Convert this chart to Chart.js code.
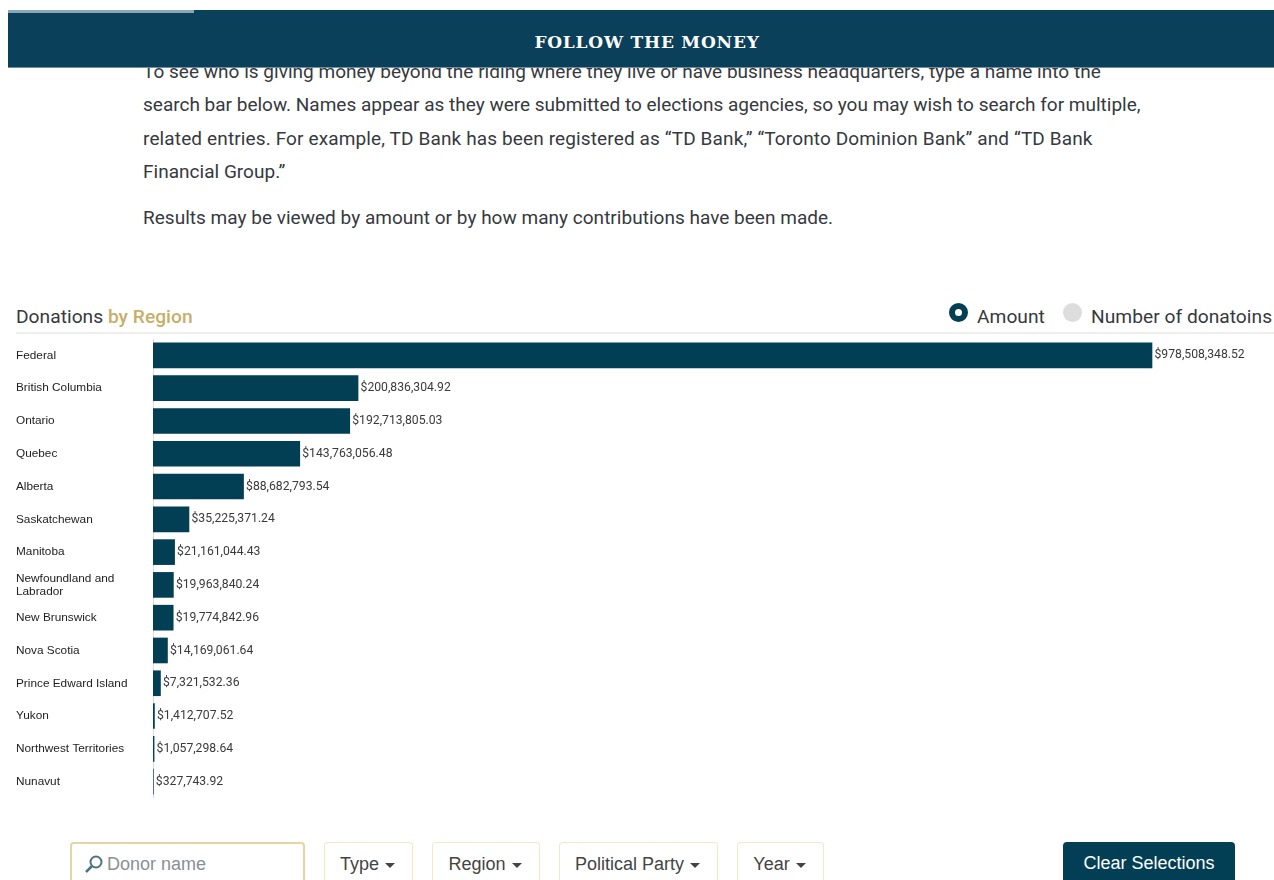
<!DOCTYPE html>
<html>
<head>
<meta charset="utf-8">
<title>Follow the Money</title>
<script src="https://cdn.jsdelivr.net/npm/chart.js@4"></script>
<style>
html,body{margin:0;padding:0;background:#fff;width:1274px;height:880px;overflow:hidden;font-family:Roboto,sans-serif;color:#333}
.abs{position:absolute;white-space:nowrap}
#band{position:absolute;left:8px;top:10px;width:1266px;height:58px;background:#0a4059;border-bottom:1px solid #6d8fa0;box-sizing:border-box;z-index:3}
#stripe{position:absolute;left:0;top:0;width:186px;height:3px;background:#8ba6b7}
#band h1{position:absolute;left:12px;right:0;top:22px;margin:0;text-align:center;font:bold 17px "DejaVu Serif",serif;color:#fff;letter-spacing:.8px}
.p{font-size:19px;color:#36393d;font-family:Roboto,sans-serif;letter-spacing:.02px}
.h{font-size:19.2px}
#rule{position:absolute;left:16px;top:332px;width:1258px;height:2px;background:#eeeeee}
.radio{position:absolute;border-radius:50%;box-sizing:border-box}
canvas{position:absolute;left:0;top:339px}
.btn{position:absolute;top:842px;height:38px;box-sizing:border-box;border:1px solid #f3e9c9;border-bottom:none;border-radius:4px 4px 0 0;background:#fff;font:18px "Liberation Sans",sans-serif;color:#444;text-align:center;line-height:42px;white-space:nowrap}
.dd{padding-right:2px}
.caret{display:inline-block;width:0;height:0;border-left:5px solid transparent;border-right:5px solid transparent;border-top:5px solid #444;vertical-align:middle;margin-left:1px}
</style>
</head>
<body>
<div class="abs p" style="left:143px;top:60px">To see who is giving money beyond the riding where they live or have business headquarters, type a name into the</div>
<div class="abs p" style="left:143px;top:93px;letter-spacing:0">search bar below. Names appear as they were submitted to elections agencies, so you may wish to search for multiple,</div>
<div class="abs p" style="left:143px;top:127px;letter-spacing:.13px">related entries. For example, TD Bank has been registered as “TD Bank,” “Toronto Dominion Bank” and “TD Bank</div>
<div class="abs p" style="left:143px;top:160px">Financial Group.”</div>
<div class="abs p" style="left:143px;top:206px">Results may be viewed by amount or by how many contributions have been made.</div>
<div id="band"><div id="stripe"></div><h1>FOLLOW THE MONEY</h1></div>

<div class="abs p h" style="left:16px;top:305px">Donations <span style="color:#c9ae68;font-weight:500">by Region</span></div>
<div class="radio" style="left:949px;top:303px;width:19px;height:19px;border:6px solid #033f54;background:#fff"></div>
<div class="abs p h" style="left:977px;top:305px">Amount</div>
<div class="radio" style="left:1063px;top:303px;width:19px;height:19px;background:#dddddd"></div>
<div class="abs p h" style="left:1091px;top:305px">Number of donatoins</div>
<div id="rule"></div>

<canvas id="chart" width="1274" height="459"></canvas>

<div class="btn" style="left:70px;width:235px;border:2px solid #e4d5a5;border-bottom:none;text-align:left;padding-left:35px;color:#8a8f94;line-height:40px">Donor name
  <svg style="position:absolute;left:12px;top:10px" width="20" height="20" viewBox="0 0 20 20"><circle cx="12" cy="8" r="5.5" fill="none" stroke="#4d7285" stroke-width="2"/><line x1="8" y1="12" x2="2" y2="18" stroke="#4d7285" stroke-width="2.5"/></svg>
</div>
<div class="btn dd" style="left:324px;width:89px">Type <span class="caret"></span></div>
<div class="btn dd" style="left:432px;width:108px">Region <span class="caret"></span></div>
<div class="btn dd" style="left:559px;width:159px">Political Party <span class="caret"></span></div>
<div class="btn dd" style="left:737px;width:87px">Year <span class="caret"></span></div>
<div class="btn" style="left:1063px;width:172px;background:#033f54;border:none;color:#fff">Clear Selections</div>

<script>
const categories = ['Federal', 'British Columbia', 'Ontario', 'Quebec', 'Alberta', 'Saskatchewan', 'Manitoba',
  ['Newfoundland and', 'Labrador'], 'New Brunswick', 'Nova Scotia', 'Prince Edward Island', 'Yukon',
  'Northwest Territories', 'Nunavut'];
const amounts = [978508348.52, 200836304.92, 192713805.03, 143763056.48, 88682793.54, 35225371.24, 21161044.43,
  19963840.24, 19774842.96, 14169061.64, 7321532.36, 1412707.52, 1057298.64, 327743.92];
const axisMax = 1098000000;

const valueLabels = {
  id: 'valueLabels',
  afterDatasetsDraw(chart) {
    const ctx = chart.ctx;
    const meta = chart.getDatasetMeta(0);
    ctx.save();
    ctx.font = '12.2px Roboto, sans-serif';
    ctx.fillStyle = '#3a3a3a';
    ctx.textAlign = 'left';
    ctx.textBaseline = 'middle';
    meta.data.forEach((bar, i) => {
      const text = '$' + amounts[i].toLocaleString('en-US', {minimumFractionDigits: 2, maximumFractionDigits: 2});
      ctx.fillText(text, bar.x + 2.5, bar.y);
    });
    ctx.restore();
  }
};

new Chart(document.getElementById('chart'), {
  type: 'bar',
  data: {
    labels: categories,
    datasets: [{ data: amounts, backgroundColor: '#033f54', barThickness: 25, borderSkipped: false }]
  },
  options: {
    indexAxis: 'y',
    responsive: false,
    animation: false,
    layout: { padding: { left: 16, right: 0, top: 0, bottom: 0 } },
    plugins: { legend: { display: false }, tooltip: { enabled: false }, title: { display: false } },
    scales: {
      x: { display: false, min: 0, max: axisMax },
      y: {
        afterFit(scale) { scale.width = 137; scale.paddingTop = 0; scale.paddingBottom = 0; },
        grid: { display: false, drawTicks: false },
        border: { display: true, color: '#dddddd', width: 1 },
        ticks: {
          autoSkip: false,
          crossAlign: 'far',
          color: '#222222',
          font: { family: '"Liberation Sans", sans-serif', size: 11.8, lineHeight: 1.1 }
        }
      }
    }
  },
  plugins: [valueLabels]
});
</script>
</body>
</html>
